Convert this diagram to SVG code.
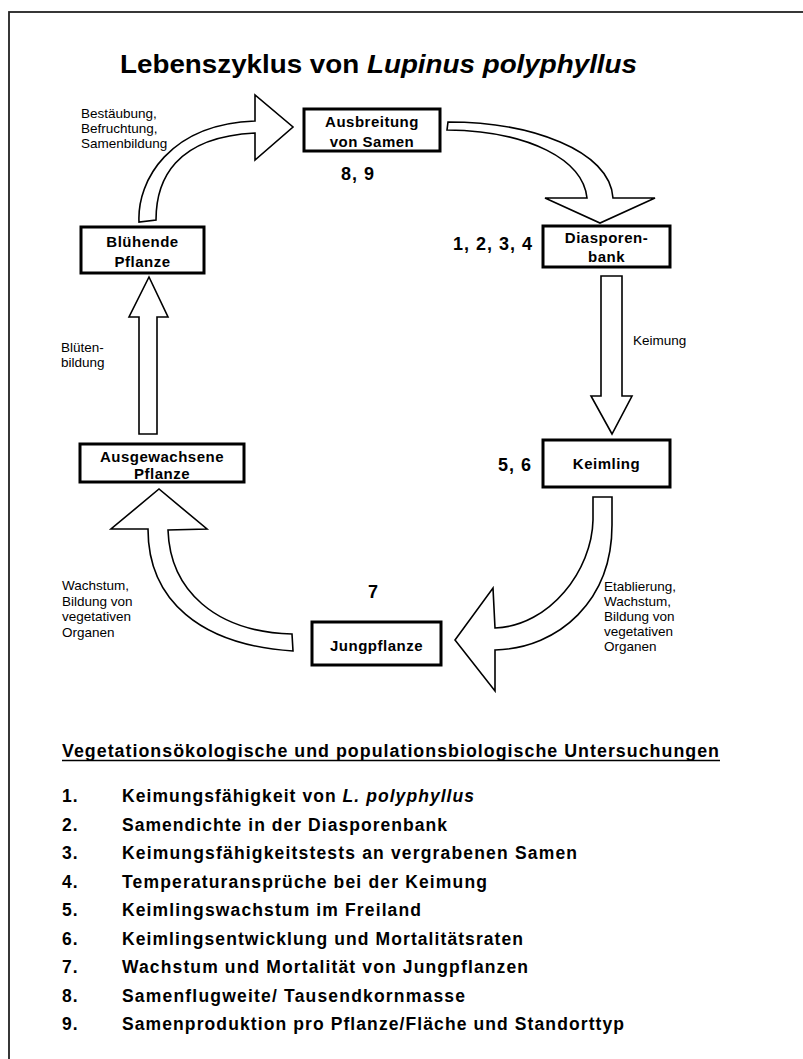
<svg xmlns="http://www.w3.org/2000/svg" width="803" height="1059" viewBox="0 0 803 1059">
<style>
.frame{fill:none;stroke:#222;stroke-width:1.8}
.box{fill:#fff;stroke:#000;stroke-width:3}
.arrow{fill:#fff;stroke:#000;stroke-width:1.6;stroke-linejoin:miter}
.title{font-family:"Liberation Sans",Arial,sans-serif;font-weight:bold;font-size:26px;fill:#000}
.bt{font-family:"Liberation Sans",Arial,sans-serif;font-weight:bold;font-size:15px;letter-spacing:0.5px;text-anchor:middle;fill:#000}
.num{font-family:"Liberation Sans",Arial,sans-serif;font-weight:bold;font-size:18px;letter-spacing:1px;fill:#000}
.lbl{font-family:"Liberation Sans",Arial,sans-serif;font-size:13.5px;fill:#000}
.list{font-family:"Liberation Sans",Arial,sans-serif;font-weight:bold;font-size:17.5px;letter-spacing:1px;fill:#000}
</style>
<rect class="frame" x="9" y="12" width="820" height="1080"/>
<text class="title" x="120" y="73" textLength="517" lengthAdjust="spacingAndGlyphs">Lebenszyklus von <tspan font-style="italic">Lupinus polyphyllus</tspan></text>

<g id="connectors">
  <path id="a-bluehende-ausbreitung" class="arrow" d="M139,222 C137,180 170,124 255,121 L255,95 L293,127 L255,160 L255,133 C175,137 156,180 156,220 Z"/>
  <path id="a-ausbreitung-diasporen" class="arrow" d="M448,122 C530,122 610,150 613,198 L655,198 L600,223 L545,198 L587,198 C583,160 530,131 447,130 Z"/>
  <path id="a-diasporen-keimling" class="arrow" d="M601,276 L622,276 L622,396 L632,396 L612,434 L591,396 L601,396 Z"/>
  <path id="a-keimling-jung" class="arrow" d="M612,497 L612,525 C612,600 560,648 495,650 L495,691 L455,640 L493,588 L495,628 C550,626 592,570 593,520 L593,497 Z"/>
  <path id="a-jung-ausgewachsen" class="arrow" d="M292,634 C215,632 170,590 168,530 L207,529 L159,489 L111,529 L148,529 C148,600 200,645 293,651 Z"/>
  <path id="a-ausgewachsen-bluehend" class="arrow" d="M139,434 L157,434 L157,317 L168,317 L149,277 L129,317 L139,317 Z"/>
  <g id="connector-labels">
    <text class="lbl" x="81" y="118">Bestäubung,</text>
    <text class="lbl" x="81" y="133">Befruchtung,</text>
    <text class="lbl" x="81" y="148">Samenbildung</text>
    <text class="lbl" x="633" y="345">Keimung</text>
    <text class="lbl" x="604" y="591">Etablierung,</text>
    <text class="lbl" x="604" y="606">Wachstum,</text>
    <text class="lbl" x="604" y="621">Bildung von</text>
    <text class="lbl" x="604" y="636">vegetativen</text>
    <text class="lbl" x="604" y="651">Organen</text>
    <text class="lbl" x="62" y="590">Wachstum,</text>
    <text class="lbl" x="62" y="606">Bildung von</text>
    <text class="lbl" x="62" y="621">vegetativen</text>
    <text class="lbl" x="62" y="637">Organen</text>
    <text class="lbl" x="61" y="352">Blüten-</text>
    <text class="lbl" x="61" y="367">bildung</text>
  </g>
</g>

<g id="node-ausbreitung">
  <rect class="box" x="304" y="109" width="136" height="42"/>
  <text class="bt" x="372" y="127">Ausbreitung</text>
  <text class="bt" x="372" y="147">von Samen</text>
  <text class="num" x="341" y="180">8, 9</text>
</g>
<g id="node-diasporenbank">
  <rect class="box" x="543" y="226" width="127" height="41"/>
  <text class="bt" x="606.5" y="243">Diasporen-</text>
  <text class="bt" x="606.5" y="262">bank</text>
  <text class="num" x="453" y="250">1, 2, 3, 4</text>
</g>
<g id="node-keimling">
  <rect class="box" x="543" y="440" width="127" height="47"/>
  <text class="bt" x="606.5" y="469">Keimling</text>
  <text class="num" x="498" y="471">5, 6</text>
</g>
<g id="node-jungpflanze">
  <rect class="box" x="312" y="622" width="129" height="43"/>
  <text class="bt" x="376.5" y="651">Jungpflanze</text>
  <text class="num" x="368" y="598">7</text>
</g>
<g id="node-ausgewachsene">
  <rect class="box" x="80" y="444" width="164" height="38"/>
  <text class="bt" x="162" y="462">Ausgewachsene</text>
  <text class="bt" x="162" y="479">Pflanze</text>
</g>
<g id="node-bluehende">
  <rect class="box" x="81" y="227" width="123" height="46"/>
  <text class="bt" x="142.5" y="247">Blühende</text>
  <text class="bt" x="142.5" y="267">Pflanze</text>
</g>

<g id="legend">
  <text class="list" x="62" y="757" textLength="658" lengthAdjust="spacingAndGlyphs">Vegetationsökologische und populationsbiologische Untersuchungen</text>
  <line x1="62" y1="760.5" x2="720" y2="760.5" stroke="#000" stroke-width="1.5"/>
  <text class="list" x="62" y="802">1.</text><text class="list" x="122" y="802" textLength="353">Keimungsfähigkeit von <tspan font-style="italic">L. polyphyllus</tspan></text>
  <text class="list" x="62" y="830.5">2.</text><text class="list" x="122" y="830.5" textLength="326">Samendichte in der Diasporenbank</text>
  <text class="list" x="62" y="859">3.</text><text class="list" x="122" y="859" textLength="456">Keimungsfähigkeitstests an vergrabenen Samen</text>
  <text class="list" x="62" y="887.5">4.</text><text class="list" x="122" y="887.5" textLength="366">Temperaturansprüche bei der Keimung</text>
  <text class="list" x="62" y="916">5.</text><text class="list" x="122" y="916" textLength="300">Keimlingswachstum im Freiland</text>
  <text class="list" x="62" y="944.5">6.</text><text class="list" x="122" y="944.5" textLength="402">Keimlingsentwicklung und Mortalitätsraten</text>
  <text class="list" x="62" y="973">7.</text><text class="list" x="122" y="973" textLength="407">Wachstum und Mortalität von Jungpflanzen</text>
  <text class="list" x="62" y="1001.5">8.</text><text class="list" x="122" y="1001.5" textLength="344">Samenflugweite/ Tausendkornmasse</text>
  <text class="list" x="62" y="1030">9.</text><text class="list" x="122" y="1030" textLength="503">Samenproduktion pro Pflanze/Fläche und Standorttyp</text>
</g>
</svg>
